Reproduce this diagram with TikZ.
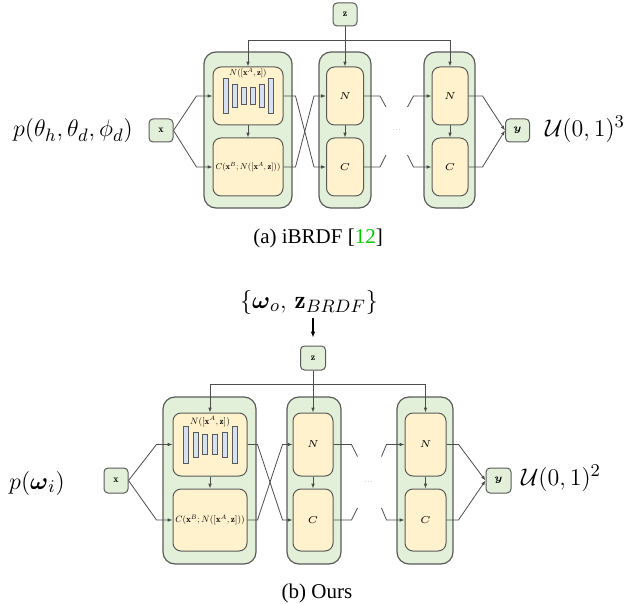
\documentclass[tikz,border=0pt]{standalone}
\usepackage{amsmath,amssymb,graphicx}
\usepackage{fontspec}
\newfontfamily\capfont{Liberation Serif}
\usetikzlibrary{arrows.meta, positioning}
\definecolor{blkgreen}{HTML}{E2F0D9}
\definecolor{netyellow}{HTML}{FFF2CC}
\definecolor{barblue}{HTML}{D6E2F3}
\definecolor{edgegray}{HTML}{5A5A5A}
\definecolor{linkgray}{HTML}{4D4D4D}
\definecolor{citegreen}{RGB}{0,204,0}
\newcommand{\netmath}[2][0.43]{\scalebox{#1}{$#2$}}

\begin{document}
\begin{tikzpicture}[
    x=0.5pt, y=-0.5pt,
    >={Latex[length=2.4pt, width=1.8pt]},
    % -- shared styles --
    io box/.style 2 args={draw=edgegray, fill=blkgreen, rounded corners=2pt,
        line width=0.5pt, inner sep=0pt, minimum width=#1, minimum height=#2,
        font=\fontsize{5}{6}\selectfont},
    flow block/.style 2 args={draw=edgegray, fill=blkgreen, rounded corners=6pt,
        line width=0.6pt, inner sep=0pt, minimum width=#1, minimum height=#2},
    net box/.style 2 args={draw=edgegray, fill=netyellow, rounded corners=4pt,
        line width=0.5pt, inner sep=0pt, minimum width=#1, minimum height=#2,
        font=\fontsize{5}{6}\selectfont},
    net label/.style={inner sep=0pt},
    bar/.style={draw=edgegray, fill=barblue, line width=0.4pt},
    link/.style={draw=linkgray, line width=0.4pt},
    in arrow/.style={draw=black, line width=0.6pt, ->,
        >={Latex[length=3pt, width=2.4pt]}},
    dist label/.style={inner sep=0pt, font=\fontsize{12.5}{15}\selectfont},
    sub caption/.style={inner sep=0pt, font=\capfont\fontsize{10.5}{12}\selectfont},
    gap dots/.style={inner sep=0pt, text=linkgray},
]
\useasboundingbox (0,0) rectangle (626,604);

% ======================================================================
%  (a) iBRDF
% ======================================================================
\node[io box={12pt}{11.5pt}] (zA) at (345,14.5) {$\mathbf{z}$};
\node[io box={12pt}{11.5pt}] (xA) at (161,130.5) {$\mathbf{x}$};
\node[io box={12pt}{11.5pt}] (yA) at (517.5,130.5) {$\boldsymbol{y}$};

\node[flow block={44pt}{78pt}]   (blkA1) at (248,130) {};
\node[flow block={26pt}{78pt}]   (blkA2) at (345,130) {};
\node[flow block={25.5pt}{78pt}] (blkA3) at (449.5,130) {};

% -- coupling layers --
\node[net box={35pt}{29pt}]   (NA1) at (248,96) {};
\node[net box={35pt}{29pt}]   (CA1) at (248,167) {};
\node[net label] (CA1txt) at (CA1) {\netmath{C(\mathbf{x}^B;N([\mathbf{x}^A,\mathbf{z}]))}};
\node[net label] (NA1txt) at (248,73) {\netmath{N([\mathbf{x}^A,\mathbf{z}])}};
\foreach \bx/\bh in {225.5/35, 234.5/23, 243.5/17, 252.5/17, 261.5/23, 270.5/35}
  \draw[bar] (\bx-2.5,95.5-\bh/2) rectangle (\bx+2.5,95.5+\bh/2);
\node[net box={18.5pt}{29pt}] (NA2) at (345,96) {$N$};
\node[net box={18.5pt}{29pt}] (CA2) at (345,167) {$C$};
\node[net box={18pt}{29pt}]   (NA3) at (450,96) {$N$};
\node[net box={18pt}{29pt}]   (CA3) at (450,167) {$C$};
\node[gap dots] (dotsA) at (397,130) {\netmath[0.35]{\cdots}};

% -- connectors --
\draw[link,->] (zA) -- (NA2);
\draw[link,->] (zA.south) -- ++(0,-7pt) -| (NA1.north);
\draw[link,->] (zA.south) -- ++(0,-7pt) -| (NA3.north);
\draw[link,->] (NA1) -- (CA1);
\draw[link,->] (NA2) -- (CA2);
\draw[link,->] (NA3) -- (CA3);
\draw[link,->] (xA.east) -- ([xshift=-8pt]NA1.west) -- (NA1.west);
\draw[link,->] (xA.east) -- ([xshift=-8pt]CA1.west) -- (CA1.west);
\draw[link,->] (NA1.east) -- ++(6pt,0) -- ([xshift=-6pt]CA2.west) -- (CA2.west);
\draw[link,->] (CA1.east) -- ++(6pt,0) -- ([xshift=-6pt]NA2.west) -- (NA2.west);
\draw[link] (NA2.east) -- ++(8pt,0) -- ++(3pt,-5.5pt);
\draw[link] (CA2.east) -- ++(8pt,0) -- ++(3pt,6pt);
\draw[link,->] ([xshift=-12pt,yshift=-5.5pt]NA3.west) -- ([xshift=-9pt]NA3.west) -- (NA3.west);
\draw[link,->] ([xshift=-12pt,yshift=6pt]CA3.west) -- ([xshift=-9pt]CA3.west) -- (CA3.west);
\draw[link,->] (NA3.east) -- ++(7pt,0) -- (yA.west);
\draw[link,->] (CA3.east) -- ++(7pt,0) -- (yA.west);

\node[dist label] (pinA)  at (73,131)  {$p(\theta_h,\theta_d,\phi_d)$};
\node[dist label] (poutA) at (585,129) {$\mathcal{U}(0,1)^3$};
\node[sub caption] (capA) at (318,238) {(a) iBRDF [\textcolor{citegreen}{12}]};

% ======================================================================
%  (b) Ours
% ======================================================================
\node[dist label] (brdfIn) at (309,302) {$\{\boldsymbol{\omega}_o,\,\mathbf{z}_{BRDF}\}$};
\node[io box={12.5pt}{12pt}]   (zB) at (313,358) {$\mathbf{z}$};
\node[io box={12pt}{12.5pt}]   (xB) at (116,480.5) {$\mathbf{x}$};
\node[io box={12.5pt}{12.5pt}] (yB) at (498.5,480.5) {$\boldsymbol{y}$};
\draw[in arrow, shorten <=2pt, shorten >=4pt] (brdfIn.south -| zB.north) -- (zB.north);

\node[flow block={46.5pt}{83.5pt}] (blkB1) at (209.5,480.5) {};
\node[flow block={27pt}{83.5pt}]   (blkB2) at (314,480.5) {};
\node[flow block={28pt}{83.5pt}]   (blkB3) at (425,480.5) {};

% -- coupling layers --
\node[net box={37pt}{31.5pt}]   (NB1) at (210,444.5) {};
\node[net box={37pt}{31pt}]     (CB1) at (210,520) {};
\node[net label] (CB1txt) at (CB1) {\netmath[0.46]{C(\mathbf{x}^B;N([\mathbf{x}^A,\mathbf{z}]))}};
\node[net label] (NB1txt) at (210,421.5) {\netmath[0.46]{N([\mathbf{x}^A,\mathbf{z}])}};
\foreach \bx/\bh in {185.5/37, 195.5/25, 204.5/20, 214.5/20, 224.5/25, 234.5/37}
  \draw[bar] (\bx-2.5,444.5-\bh/2) rectangle (\bx+2.5,444.5+\bh/2);
\node[net box={20pt}{31.5pt}]   (NB2) at (313,444.5) {$N$};
\node[net box={20pt}{31pt}]     (CB2) at (313,520) {$C$};
\node[net box={20.5pt}{31.5pt}] (NB3) at (425.5,444.5) {$N$};
\node[net box={20.5pt}{31pt}]   (CB3) at (425.5,520) {$C$};
\node[gap dots] (dotsB) at (369,482) {\netmath[0.35]{\cdots}};

% -- connectors --
\draw[link,->] (zB) -- (NB2);
\draw[link,->] (zB.south) -- ++(0,-7pt) -| (NB1.north);
\draw[link,->] (zB.south) -- ++(0,-7pt) -| (NB3.north);
\draw[link,->] (NB1) -- (CB1);
\draw[link,->] (NB2) -- (CB2);
\draw[link,->] (NB3) -- (CB3);
\draw[link,->] (xB.east) -- ([xshift=-8pt]NB1.west) -- (NB1.west);
\draw[link,->] (xB.east) -- ([xshift=-8pt]CB1.west) -- (CB1.west);
\draw[link,->] (NB1.east) -- ++(5pt,0) -- ([xshift=-5pt]CB2.west) -- (CB2.west);
\draw[link,->] (CB1.east) -- ++(5pt,0) -- ([xshift=-5pt]NB2.west) -- (NB2.west);
\draw[link] (NB2.east) -- ++(9pt,0) -- ++(3pt,-6pt);
\draw[link] (CB2.east) -- ++(9pt,0) -- ++(3pt,6pt);
\draw[link,->] ([xshift=-11.5pt,yshift=-6pt]NB3.west) -- ([xshift=-9pt]NB3.west) -- (NB3.west);
\draw[link,->] ([xshift=-11.5pt,yshift=6pt]CB3.west) -- ([xshift=-9pt]CB3.west) -- (CB3.west);
\draw[link,->] (NB3.east) -- ++(6pt,0) -- (yB.west);
\draw[link,->] (CB3.east) -- ++(6pt,0) -- (yB.west);

\node[dist label] (pinB)  at (37,483)  {$p(\boldsymbol{\omega}_i)$};
\node[dist label] (poutB) at (561,478) {$\mathcal{U}(0,1)^2$};
\node[sub caption] (capB) at (317,593) {(b) Ours};

\end{tikzpicture}
\end{document}
